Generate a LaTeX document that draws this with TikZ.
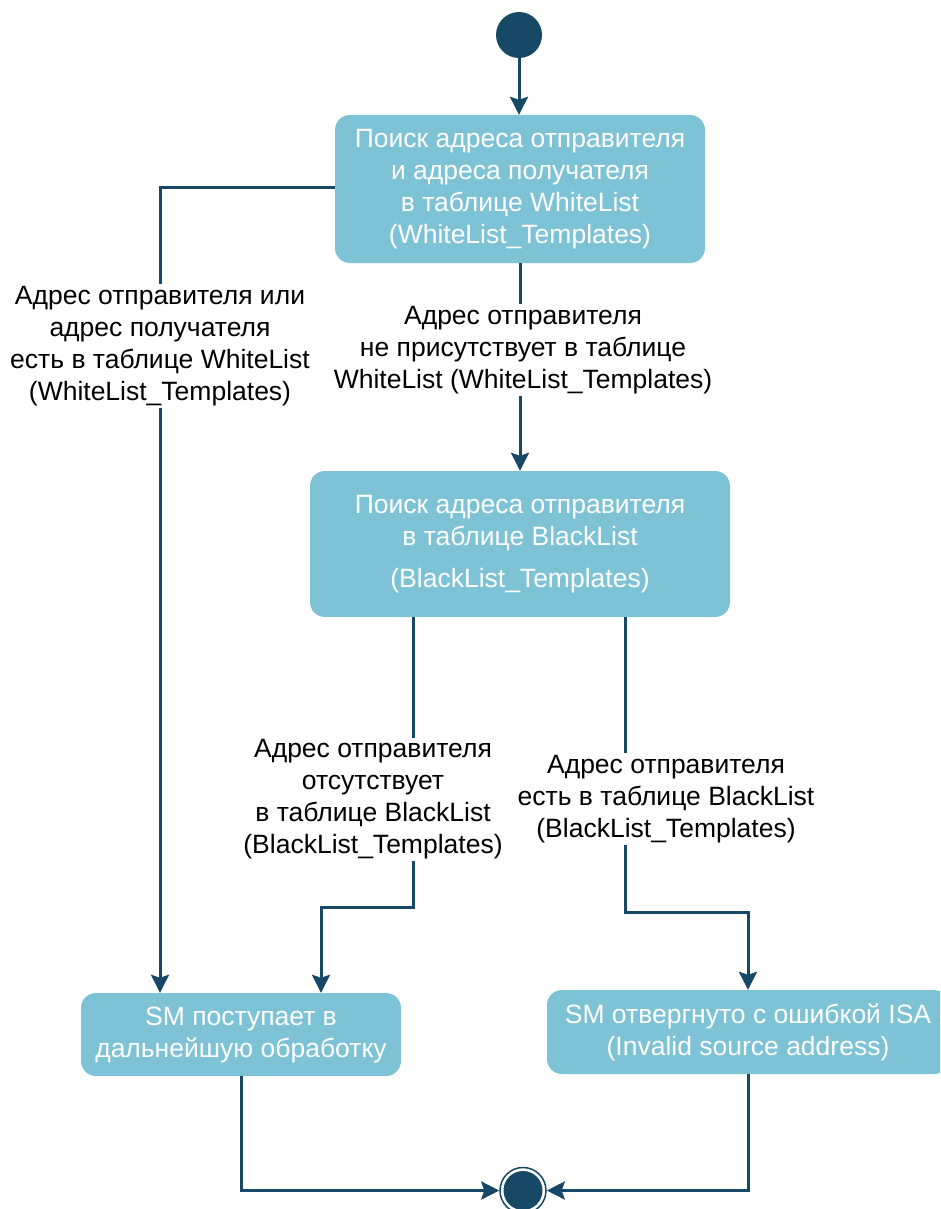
\documentclass[tikz,border=0pt]{standalone}
\usepackage{fontspec}
\setmainfont{Liberation Sans}
\usetikzlibrary{arrows.meta}
\definecolor{dark}{RGB}{23,73,103}
\definecolor{boxfill}{RGB}{125,195,213}
\tikzset{
  state/.style={rectangle, rounded corners=15pt, fill=boxfill, text=white, align=center, inner sep=0pt,
    font=\fontsize{26.5}{32}\selectfont},
  lbl/.style={fill=white, text=black, align=center, inner sep=2pt, font=\fontsize{26.5}{32}\selectfont},
  arr/.style={draw=dark, line width=3pt, -{Stealth[length=18pt,width=18pt,inset=3pt]}},
}
\begin{document}
\begin{tikzpicture}[x=1pt,y=-1pt]
\useasboundingbox (0,0) rectangle (940,1209);
\clip (0,0) rectangle (940,1209);
\fill[white] (0,0) rectangle (940,1209);
% nodes
\node[circle, fill=dark, minimum size=46pt, inner sep=0pt] (start) at (519,35) {};
\node[state, minimum width=370pt, minimum height=148pt] (b1) at (520,189)
  {Поиск адреса отправителя\\и адреса получателя\\в таблице WhiteList\\(WhiteList\_Templates)};
\node[state, minimum width=420pt, minimum height=146pt] (b2) at (520,544)
  {Поиск адреса отправителя\\в таблице BlackList\\[10pt](BlackList\_Templates)};
\node[state, minimum width=320pt, minimum height=83pt] (b3) at (241,1034.5)
  {SM поступает в\\дальнейшую обработку};
\node[state, minimum width=402pt, minimum height=84pt] (b4) at (748,1032)
  {SM отвергнуто с ошибкой ISA\\(Invalid source address)};
\node[circle, draw=dark, line width=1.5pt, fill=white, minimum size=46pt, inner sep=0pt] (endc) at (523,1190.5) {};
\fill[dark] (endc.center) circle (19.5pt);
% coordinates
\coordinate (k1) at (160,188);
\coordinate (k3) at (413,907);
\coordinate (k3b) at (321,907);
\coordinate (k4) at (625,912);
\coordinate (k4b) at (748,912);
% connectors
\draw[arr] (start.south) -- (b1.north -| start.south);
\draw[arr] (b1.west |- k1) -- (k1) -- (b3.north -| k1);
\draw[arr] (b1.south) -- (b2.north);
\draw[arr] (b2.south -| k3) -- (k3) -- (k3b) -- (b3.north -| k3b);
\draw[arr] (b2.south -| k4) -- (k4) -- (k4b) -- (b4.north);
\draw[arr] (b3.south) |- (endc.west);
\draw[arr] (b4.south) |- (endc.east);
% labels
\node[lbl] (l1) at (160,346) {Адрес отправителя или\\адрес получателя\\есть в таблице WhiteList\\(WhiteList\_Templates)};
\node[lbl] (l2) at (523,350) {Адрес отправителя\\не присутствует в таблице\\WhiteList (WhiteList\_Templates)};
\node[lbl] (l3) at (373,799.5) {Адрес отправителя\\отсутствует\\в таблице BlackList\\(BlackList\_Templates)};
\node[lbl] (l4) at (666,799) {Адрес отправителя\\есть в таблице BlackList\\(BlackList\_Templates)};
\end{tikzpicture}
\end{document}
